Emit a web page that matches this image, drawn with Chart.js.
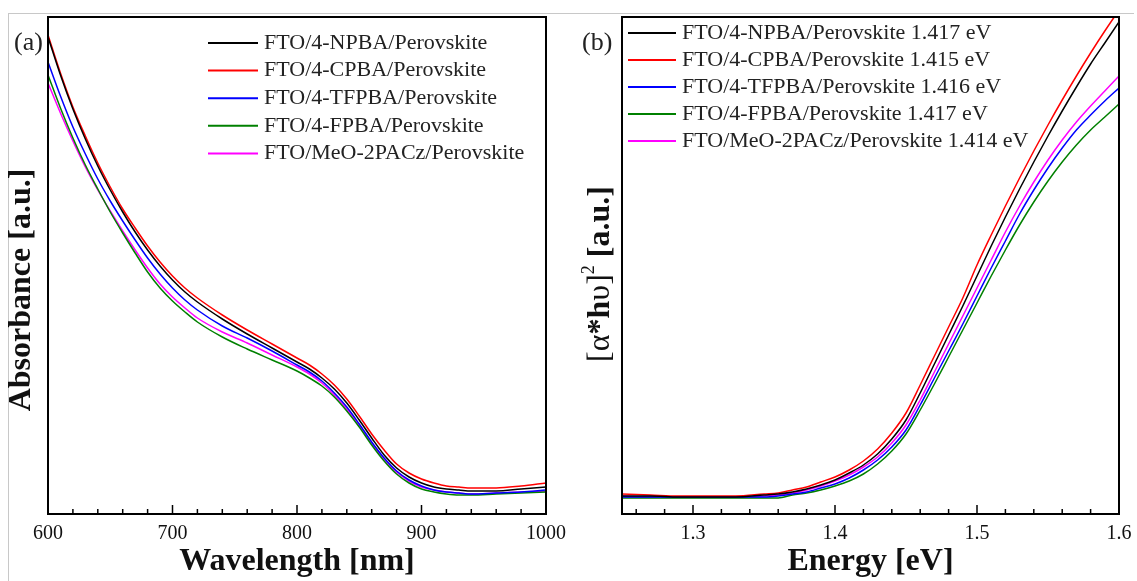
<!DOCTYPE html>
<html>
<head>
<meta charset="utf-8">
<script src="https://cdn.jsdelivr.net/npm/chart.js@4.4.1/dist/chart.umd.min.js"></script>
<style>
html, body { margin: 0; padding: 0; background: #fff; }
body { width: 1137px; height: 581px; position: relative; overflow: hidden; }
.moldura { position: absolute; left: 8px; top: 13px; width: 1125px; height: 600px; border-top: 1px solid #c8c8c8; border-left: 1px solid #c8c8c8; }
.painel { position: absolute; top: 0; height: 581px; }
#painelA { left: 0; width: 568px; }
#painelB { left: 568px; width: 569px; }
</style>
</head>
<body>
<div class="moldura"></div>
<div class="painel" id="painelA"><canvas id="absChart" width="568" height="581"></canvas></div>
<div class="painel" id="painelB"><canvas id="taucChart" width="569" height="581"></canvas></div>
<script>
// Dados (a): absorbância x comprimento de onda
const wavelength = [600, 610, 620, 630, 640, 650, 660, 670, 680, 690, 700, 710, 720, 740, 760, 780, 800,
  810, 820, 830, 840, 850, 860, 870, 880, 890, 900, 910, 920, 930, 940, 960, 980, 1000];
const absNPBA = [2.385, 2.195, 2.025, 1.875, 1.74, 1.62, 1.51, 1.41, 1.32, 1.24, 1.17, 1.11, 1.06, 0.975, 0.90, 0.83, 0.76,
  0.725, 0.68, 0.625, 0.555, 0.47, 0.38, 0.295, 0.23, 0.185, 0.155, 0.135, 0.125, 0.12, 0.115, 0.115, 0.125, 0.135];
const absCPBA = [2.395, 2.205, 2.035, 1.89, 1.755, 1.635, 1.525, 1.43, 1.34, 1.26, 1.19, 1.13, 1.08, 0.995, 0.92, 0.85, 0.78,
  0.745, 0.70, 0.645, 0.575, 0.49, 0.40, 0.32, 0.25, 0.205, 0.175, 0.155, 0.14, 0.135, 0.13, 0.13, 0.14, 0.155];
const absTFPBA = [2.26, 2.09, 1.935, 1.80, 1.675, 1.565, 1.465, 1.37, 1.28, 1.20, 1.13, 1.07, 1.02, 0.94, 0.88, 0.815, 0.745,
  0.71, 0.665, 0.605, 0.535, 0.45, 0.36, 0.28, 0.215, 0.17, 0.14, 0.12, 0.11, 0.105, 0.10, 0.105, 0.11, 0.12];
const absFPBA = [2.195, 2.03, 1.88, 1.745, 1.625, 1.51, 1.405, 1.305, 1.21, 1.13, 1.065, 1.01, 0.96, 0.885, 0.825, 0.77, 0.715,
  0.68, 0.64, 0.585, 0.515, 0.435, 0.345, 0.265, 0.20, 0.155, 0.125, 0.11, 0.10, 0.095, 0.095, 0.10, 0.105, 0.11];
const absMeO = [2.155, 2.005, 1.865, 1.735, 1.62, 1.515, 1.415, 1.32, 1.23, 1.15, 1.085, 1.03, 0.98, 0.91, 0.855, 0.795, 0.735,
  0.70, 0.655, 0.595, 0.525, 0.445, 0.355, 0.275, 0.21, 0.165, 0.135, 0.12, 0.11, 0.105, 0.10, 0.105, 0.11, 0.115];

// Dados (b): Tauc (alfa*hv)^2 x energia
const energy = [1.25, 1.27, 1.29, 1.31, 1.33, 1.35, 1.36, 1.37, 1.38, 1.39, 1.40, 1.41, 1.42, 1.43, 1.44, 1.45,
  1.46, 1.47, 1.48, 1.49, 1.50, 1.51, 1.52, 1.53, 1.54, 1.55, 1.56, 1.57, 1.58, 1.59, 1.60];
const taucNPBA = [0.18, 0.18, 0.17, 0.17, 0.17, 0.19, 0.20, 0.22, 0.25, 0.29, 0.34, 0.41, 0.49, 0.60, 0.75, 0.94,
  1.21, 1.50, 1.79, 2.08, 2.38, 2.68, 2.97, 3.25, 3.52, 3.78, 4.03, 4.27, 4.50, 4.71, 4.92];
const taucCPBA = [0.20, 0.19, 0.18, 0.18, 0.18, 0.20, 0.21, 0.24, 0.27, 0.32, 0.37, 0.44, 0.53, 0.65, 0.81, 1.01,
  1.29, 1.58, 1.87, 2.16, 2.49, 2.79, 3.08, 3.36, 3.63, 3.89, 4.14, 4.38, 4.61, 4.83, 5.04];
const taucTFPBA = [0.17, 0.17, 0.17, 0.17, 0.17, 0.17, 0.18, 0.20, 0.22, 0.26, 0.30, 0.36, 0.44, 0.54, 0.67, 0.84,
  1.09, 1.36, 1.63, 1.90, 2.18, 2.46, 2.73, 3.00, 3.24, 3.46, 3.66, 3.84, 3.99, 4.13, 4.26];
const taucFPBA = [0.16, 0.16, 0.16, 0.16, 0.16, 0.16, 0.16, 0.19, 0.21, 0.24, 0.28, 0.33, 0.40, 0.50, 0.63, 0.80,
  1.04, 1.30, 1.57, 1.84, 2.11, 2.38, 2.64, 2.89, 3.12, 3.33, 3.52, 3.69, 3.84, 3.97, 4.10];
const taucMeO = [0.18, 0.17, 0.17, 0.17, 0.17, 0.18, 0.19, 0.21, 0.24, 0.28, 0.33, 0.39, 0.47, 0.57, 0.71, 0.89,
  1.14, 1.42, 1.70, 1.98, 2.26, 2.54, 2.82, 3.08, 3.32, 3.54, 3.74, 3.92, 4.08, 4.23, 4.38];

// Legendas e ticks
const labelsA = ['FTO/4-NPBA/Perovskite', 'FTO/4-CPBA/Perovskite', 'FTO/4-TFPBA/Perovskite',
  'FTO/4-FPBA/Perovskite', 'FTO/MeO-2PACz/Perovskite'];
const bandGaps = ['1.417 eV', '1.415 eV', '1.416 eV', '1.417 eV', '1.414 eV'];
const xTicksA = [600, 700, 800, 900, 1000];
const xTicksB = [1.3, 1.4, 1.5, 1.6];

document.addEventListener('DOMContentLoaded', function() {
const serif = "'Liberation Serif', 'Times New Roman', serif";
const colors = {
  npba: '#000000',
  cpba: '#ff0000',
  tfpba: '#0000ff',
  fpba: '#008000',
  meo: '#ff00ff'
};
const seriesColors = [colors.npba, colors.cpba, colors.tfpba, colors.fpba, colors.meo];

const toPoints = (xs, ys) => xs.map((x, i) => ({ x: x, y: ys[i] }));

const makeDatasets = (xs, series, labels) => series.map((ys, i) => ({
  label: labels[i],
  data: toPoints(xs, ys),
  borderColor: seriesColors[i],
  backgroundColor: seriesColors[i],
  borderWidth: 1.5,
  pointRadius: 0,
  fill: false,
  cubicInterpolationMode: 'monotone'
}));

// Plugin: moldura, ticks internos, legenda, rótulo do painel e título do eixo y
const decoracao = {
  id: 'decoracao',
  afterDatasetsDraw(chart, args, opts) {
    const ctx = chart.ctx;
    const a = chart.chartArea;
    const x = chart.scales.x;
    ctx.save();
    ctx.strokeStyle = '#000';
    ctx.lineWidth = 1.5;
    const n0 = Math.ceil(x.min / opts.minor - 1e-6);
    const n1 = Math.floor(x.max / opts.minor + 1e-6);
    for (let k = n0; k <= n1; k++) {
      const v = k * opts.minor;
      const r = v / opts.major;
      const major = Math.abs(r - Math.round(r)) < 1e-6;
      const px = x.getPixelForValue(v);
      ctx.beginPath();
      ctx.moveTo(px, a.bottom);
      ctx.lineTo(px, a.bottom - (major ? 9 : 5));
      ctx.stroke();
    }
    ctx.lineWidth = 2;
    ctx.strokeRect(a.left, a.top, a.right - a.left, a.bottom - a.top);

    // legenda
    const lg = opts.legend;
    ctx.font = '22px ' + serif;
    ctx.textBaseline = 'middle';
    ctx.textAlign = 'left';
    chart.data.datasets.forEach((ds, i) => {
      const y = lg.y0 + i * lg.dy;
      ctx.strokeStyle = ds.borderColor;
      ctx.lineWidth = 2;
      ctx.beginPath();
      ctx.moveTo(lg.x0, y);
      ctx.lineTo(lg.x1, y);
      ctx.stroke();
      ctx.fillStyle = '#222';
      ctx.fillText(ds.label, lg.textX, y);
    });

    // rótulo (a)/(b)
    ctx.fillStyle = '#222';
    ctx.font = '26px ' + serif;
    ctx.fillText(opts.tag.text, opts.tag.x, opts.tag.y);

    // título do eixo y (rotacionado, com trechos em negrito)
    const t = opts.yTitle;
    ctx.translate(t.cx, t.cy);
    ctx.rotate(-Math.PI / 2);
    const fontOf = s => (s.bold ? 'bold ' : '') + (s.sup ? 18 : 32) + 'px ' + serif;
    let total = 0;
    t.parts.forEach(s => { ctx.font = fontOf(s); total += ctx.measureText(s.text).width; });
    let cur = -total / 2;
    ctx.fillStyle = '#111';
    t.parts.forEach(s => {
      ctx.font = fontOf(s);
      ctx.fillText(s.text, cur, s.sup ? -12 : 0);
      cur += ctx.measureText(s.text).width;
    });
    ctx.restore();
  }
};

const xScale = (min, max, ticks, title, height) => ({
  type: 'linear',
  min: min,
  max: max,
  afterBuildTicks: s => { s.ticks = ticks.map(v => ({ value: v })); },
  afterFit: s => {
    s.height = height;
    // não deixar os rótulos das pontas encolherem a área do gráfico
    s.paddingLeft = 0;
    s.paddingRight = 0;
  },
  grid: { display: false, drawTicks: false },
  border: { display: false },
  ticks: {
    color: '#111',
    font: { family: serif, size: 20 },
    padding: 8,
    maxRotation: 0,
    autoSkip: false,
    callback: v => String(v)
  },
  title: {
    display: true,
    text: title,
    color: '#111',
    font: { family: serif, size: 32, weight: 'bold' },
    padding: { top: 0, bottom: 0 }
  }
});

// Gráfico (a)
new Chart(document.getElementById('absChart'), {
  type: 'line',
  data: { datasets: makeDatasets(wavelength, [absNPBA, absCPBA, absTFPBA, absFPBA, absMeO], labelsA) },
  options: {
    responsive: false,
    animation: false,
    layout: { padding: { left: 48, right: 22, top: 17, bottom: 0 } },
    plugins: {
      legend: { display: false },
      tooltip: { enabled: false },
      decoracao: {
        minor: 20, major: 100,
        legend: { x0: 208, x1: 258, textX: 264, y0: 43, dy: 27.6 },
        tag: { text: '(a)', x: 14, y: 43 },
        yTitle: { cx: 22, cy: 290, parts: [{ text: 'Absorbance [a.u.]', bold: true }] }
      }
    },
    scales: {
      x: xScale(600, 1000, xTicksA, 'Wavelength [nm]', 67),
      y: { display: false, min: 0, max: 2.485 }
    }
  },
  plugins: [decoracao]
});

// Gráfico (b)
const labelsB = labelsA.map((l, i) => l + ' ' + bandGaps[i]);
new Chart(document.getElementById('taucChart'), {
  type: 'line',
  data: { datasets: makeDatasets(energy, [taucNPBA, taucCPBA, taucTFPBA, taucFPBA, taucMeO], labelsB) },
  options: {
    responsive: false,
    animation: false,
    layout: { padding: { left: 54, right: 18, top: 17, bottom: 0 } },
    plugins: {
      legend: { display: false },
      tooltip: { enabled: false },
      decoracao: {
        minor: 0.02, major: 0.1,
        legend: { x0: 60, x1: 108, textX: 114, y0: 33, dy: 27 },
        tag: { text: '(b)', x: 14, y: 43 },
        yTitle: { cx: 33, cy: 274, parts: [
          { text: '[α' }, { text: '*h', bold: true }, { text: 'υ]' },
          { text: '2', sup: true }, { text: ' [a.u.]', bold: true }
        ] }
      }
    },
    scales: {
      x: xScale(1.25, 1.6, xTicksB, 'Energy [eV]', 67),
      y: { display: false, min: 0, max: 4.97 }
    }
  },
  plugins: [decoracao]
});
});
</script>
</body>
</html>
